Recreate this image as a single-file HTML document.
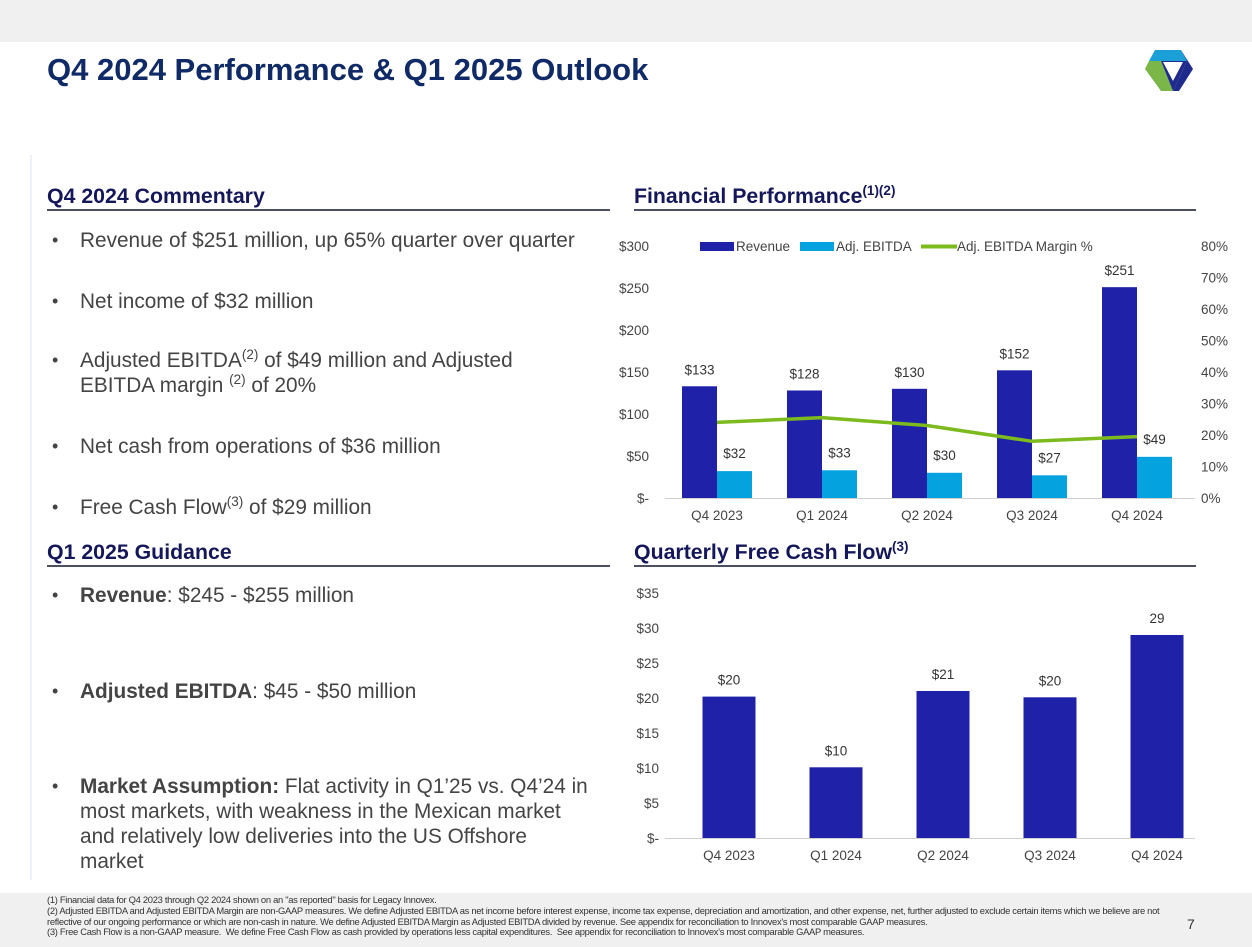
<!DOCTYPE html>
<html><head><meta charset="utf-8">
<style>
body{margin:0;width:1252px;height:947px;position:relative;background:#fff;font-family:"Liberation Sans",Arial,sans-serif;overflow:hidden}
.abs{position:absolute}
.h{position:absolute;font-weight:bold;font-size:21.3px;color:#14175a;border-bottom:2px solid #4a5060;padding-bottom:0px;white-space:nowrap}
.b{position:absolute;left:50px;font-size:20.8px;color:#444;line-height:25px}
.b .dot{position:absolute;left:2px;top:0;font-size:18px}
.b .t{position:absolute;left:30px;white-space:nowrap}
sup{font-size:13.5px;line-height:0}
.fn{position:absolute;left:47px;font-size:9.4px;color:#333;line-height:10.8px;letter-spacing:-0.3px}
</style></head><body>
<div class="abs" style="left:0;top:0;width:1252px;height:42px;background:#f0f0f0"></div>
<div class="abs" style="left:47px;top:52px;font-size:31px;font-weight:bold;color:#0f2a66;white-space:nowrap">Q4 2024 Performance &amp; Q1 2025 Outlook</div>
<svg class="abs" style="left:1143px;top:47px" width="52" height="46" viewBox="0 0 52 46">
<polygon points="12,3 38,3 44,14 6,14 " fill="#1a9fd6"/>
<polygon points="6,14 18,14 30,44 18,44 2,22" fill="#7ab648"/>
<polygon points="38,3 50,22 36,44 30,44 44,14" fill="#1e2a8c"/>
<polygon points="18,14 44,14 30,44" fill="#1e2a8c"/>
<polygon points="20,15 40,15 30,34" fill="#fff"/>
</svg>
<div class="abs" style="left:30px;top:155px;width:2px;height:725px;background:#eef2f8"></div>

<div class="h" style="left:47px;top:184px;width:563px">Q4 2024 Commentary</div>
<div class="b" style="top:228px"><span class="dot">•</span><span class="t">Revenue of $251 million, up 65% quarter over quarter</span></div>
<div class="b" style="top:289px"><span class="dot">•</span><span class="t">Net income of $32 million</span></div>
<div class="b" style="top:348px"><span class="dot">•</span><span class="t">Adjusted EBITDA<sup>(2)</sup> of $49 million and Adjusted<br>EBITDA margin <sup>(2)</sup> of 20%</span></div>
<div class="b" style="top:434px"><span class="dot">•</span><span class="t">Net cash from operations of $36 million</span></div>
<div class="b" style="top:495px"><span class="dot">•</span><span class="t">Free Cash Flow<sup>(3)</sup> of $29 million</span></div>

<div class="h" style="left:47px;top:540px;width:563px">Q1 2025 Guidance</div>
<div class="b" style="top:583px"><span class="dot">•</span><span class="t"><b>Revenue</b>: $245 - $255 million</span></div>
<div class="b" style="top:679px"><span class="dot">•</span><span class="t"><b>Adjusted EBITDA</b>: $45 - $50 million</span></div>
<div class="b" style="top:774px"><span class="dot">•</span><span class="t"><b>Market Assumption:</b> Flat activity in Q1’25 vs. Q4’24 in<br>most markets, with weakness in the Mexican market<br>and relatively low deliveries into the US Offshore<br>market</span></div>

<div class="h" style="left:634px;top:184px;width:562px">Financial Performance<sup>(1)(2)</sup></div>
<div class="h" style="left:634px;top:540px;width:562px">Quarterly Free Cash Flow<sup>(3)</sup></div>

<svg class="abs" id="c1" style="left:0;top:0" width="1252" height="947"></svg>

<div class="abs" style="left:0;top:893px;width:1252px;height:54px;background:#f0f0f0"></div>
<div class="fn" style="top:895px;width:1130px">(1) Financial data for Q4 2023 through Q2 2024 shown on an "as reported" basis for Legacy Innovex.<br>(2) Adjusted EBITDA and Adjusted EBITDA Margin are non-GAAP measures. We define Adjusted EBITDA as net income before interest expense, income tax expense, depreciation and amortization, and other expense, net, further adjusted to exclude certain items which we believe are not<br>reflective of our ongoing performance or which are non-cash in nature. We define Adjusted EBITDA Margin as Adjusted EBITDA divided by revenue. See appendix for reconciliation to Innovex's most comparable GAAP measures.<br>(3) Free Cash Flow is a non-GAAP measure.&nbsp; We define Free Cash Flow as cash provided by operations less capital expenditures.&nbsp; See appendix for reconciliation to Innovex's most comparable GAAP measures.</div>
<div class="abs" style="left:1187px;top:916px;font-size:14px;color:#333">7</div>

<script>
const categories=["Q4 2023","Q1 2024","Q2 2024","Q3 2024","Q4 2024"];
const revenue=[133,128,130,152,251];
const ebitda=[32,33,30,27,49];
const margin=[24,25.5,23,18,19.5];
const fcf=[20.2,10.1,21,20.1,29];
const fcfLabels=["$20","$10","$21","$20","29"];
const c1Ticks=[0,50,100,150,200,250,300];
const c1Pct=[0,10,20,30,40,50,60,70,80];
const c2Ticks=[0,5,10,15,20,25,30,35];
const NS="http://www.w3.org/2000/svg";
const svg=document.getElementById('c1');
const FS=13.5;
function mk(tag,attrs,txt){const e=document.createElementNS(NS,tag);for(const k in attrs)e.setAttribute(k,attrs[k]);if(txt!==undefined)e.textContent=txt;svg.appendChild(e);return e;}
const dl=v=>v===0?"$-":"$"+v;
// chart 1
const y1=v=>498-v*(252/300), yp=v=>498-v*(252/80), x1=i=>717+i*105;
c1Ticks.forEach(v=>{const t=mk('text',{x:649,y:y1(v)+5,'text-anchor':'end','font-size':FS,fill:'#444'},dl(v));
});
c1Pct.forEach(v=>{const t=mk('text',{x:1201,y:yp(v)+5,'font-size':FS,fill:'#444'},v+'%');
});
const ax1=mk('line',{x1:665,x2:1195,y1:498.5,y2:498.5,stroke:'#d0d0d0'});

categories.forEach((c,i)=>{
const x=x1(i);
const r=mk('rect',{x:x-35,y:y1(revenue[i]),width:35,height:498-y1(revenue[i]),fill:'#1f22a8'});

const e=mk('rect',{x:x,y:y1(ebitda[i]),width:35,height:498-y1(ebitda[i]),fill:'#04a3df'});

const lr=mk('text',{x:x-17.5,y:y1(revenue[i])-12,'text-anchor':'middle','font-size':FS,fill:'#333'},'$'+revenue[i]);

const le=mk('text',{x:x+17.5,y:y1(ebitda[i])-13,'text-anchor':'middle','font-size':FS,fill:'#333'},'$'+ebitda[i]);

const xl=mk('text',{x:x,y:520,'text-anchor':'middle','font-size':FS,fill:'#444'},c);

});
const ml=mk('polyline',{points:margin.map((m,i)=>x1(i)+','+yp(m)).join(' '),fill:'none',stroke:'#7cba1e','stroke-width':3.5});

// legend
const lg=[["#1f22a8","Revenue",700,'rect'],["#04a3df","Adj. EBITDA",800,'rect'],["#7cba1e","Adj. EBITDA Margin %",921,'line']];
lg.forEach(l=>{
const m=l[3]==='rect'?mk('rect',{x:l[2],y:242,width:34,height:9,fill:l[0]}):mk('line',{x1:l[2],x2:l[2]+36,y1:246.5,y2:246.5,stroke:l[0],'stroke-width':4});

const t=mk('text',{x:l[2]+36,y:251,'font-size':FS,fill:'#444'},l[1]);

});
// chart 2
const y2=v=>838-v*7, x2=i=>729+i*107;
c2Ticks.forEach(v=>{const t=mk('text',{x:659,y:y2(v)+5,'text-anchor':'end','font-size':FS,fill:'#444'},dl(v));
});
const ax2=mk('line',{x1:665,x2:1195,y1:838.5,y2:838.5,stroke:'#d0d0d0'});

categories.forEach((c,i)=>{
const x=x2(i);
const r=mk('rect',{x:x-26.5,y:y2(fcf[i]),width:53,height:838-y2(fcf[i]),fill:'#1f22a8'});

const l=mk('text',{x:x,y:y2(fcf[i])-12,'text-anchor':'middle','font-size':FS,fill:'#333'},fcfLabels[i]);

const xl=mk('text',{x:x,y:860,'text-anchor':'middle','font-size':FS,fill:'#444'},c);

});
</script>
</body></html>
